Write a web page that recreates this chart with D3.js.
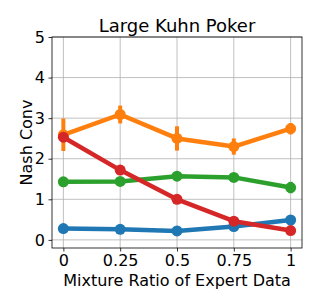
<!DOCTYPE html>
<html>
<head>
<meta charset="utf-8">
<script src="https://cdn.jsdelivr.net/npm/d3@7"></script>
<style>
  body { margin: 0; background: #fff; }
  svg { font-family: "DejaVu Sans", sans-serif; }
</style>
</head>
<body>
<svg width="319" height="306"></svg>
<script>
// data
const ratios = [0, 0.25, 0.5, 0.75, 1];
const xTicks = ["0", "0.25", "0.5", "0.75", "1"];
const blue = [0.28, 0.26, 0.22, 0.33, 0.49];
const blueErr = [0.03, 0.03, 0.03, 0.04, 0.05];
const orange = [2.59, 3.09, 2.50, 2.30, 2.74];
const orangeErr = [0.4, 0.22, 0.3, 0.2, 0.14];
const green = [1.43, 1.44, 1.57, 1.54, 1.29];
const greenErr = [0.05, 0.05, 0.05, 0.05, 0.14];
const red = [2.53, 1.72, 1.00, 0.46, 0.23];
const redErr = [0.03, 0.03, 0.03, 0.03, 0.03];
const yTicks = [0, 1, 2, 3, 4, 5];

const series = [
  {vals: blue, err: blueErr, color: "#1f77b4"},
  {vals: orange, err: orangeErr, color: "#ff7f0e"},
  {vals: green, err: greenErr, color: "#2ca02c"},
  {vals: red, err: redErr, color: "#d62728"}
];

const margin = {top: 37, right: 17, bottom: 58, left: 52};
const width = 319 - margin.left - margin.right;
const height = 306 - margin.top - margin.bottom;

const svg = d3.select("svg");
const g = svg.append("g").attr("transform", `translate(${margin.left},${margin.top})`);

const x = d3.scaleLinear().domain([-0.05, 1.05]).range([0, width]);
const y = d3.scaleLinear().domain([-0.2, 5.0]).range([height, 0]);

// grid
g.append("g").selectAll("line").data(ratios).join("line")
  .attr("x1", d => x(d)).attr("x2", d => x(d))
  .attr("y1", 0).attr("y2", height)
  .attr("stroke", "#b0b0b0").attr("stroke-width", 0.8);
g.append("g").selectAll("line").data(yTicks).join("line")
  .attr("x1", 0).attr("x2", width)
  .attr("y1", d => y(d)).attr("y2", d => y(d))
  .attr("stroke", "#b0b0b0").attr("stroke-width", 0.8);

// series
const line = d3.line().x((d, i) => x(ratios[i])).y(d => y(d));
series.forEach(s => {
  const sg = g.append("g");
  sg.selectAll("line.err").data(s.vals).join("line")
    .attr("class", "err")
    .attr("x1", (d, i) => x(ratios[i])).attr("x2", (d, i) => x(ratios[i]))
    .attr("y1", (d, i) => y(d - s.err[i])).attr("y2", (d, i) => y(d + s.err[i]))
    .attr("stroke", s.color).attr("stroke-width", 4);
  sg.append("path").datum(s.vals)
    .attr("d", line)
    .attr("fill", "none")
    .attr("stroke", s.color)
    .attr("stroke-width", 4.5)
    .attr("stroke-linejoin", "round");
  sg.selectAll("circle").data(s.vals).join("circle")
    .attr("cx", (d, i) => x(ratios[i])).attr("cy", d => y(d))
    .attr("r", 5.5)
    .attr("fill", s.color);
});

// axes
const xAxis = d3.axisBottom(x).tickValues(ratios).tickFormat((d, i) => xTicks[i]).tickSize(3.5).tickPadding(3.5);
const yAxis = d3.axisLeft(y).tickValues(yTicks).tickFormat(d3.format("d")).tickSize(3.5).tickPadding(3.5);
const xg = g.append("g").attr("transform", `translate(0,${height})`).call(xAxis);
const yg = g.append("g").call(yAxis);
[xg, yg].forEach(a => {
  a.select(".domain").remove();
  a.selectAll("text").attr("font-size", 16).attr("fill", "#000").attr("font-family", "DejaVu Sans");
  a.selectAll("line").attr("stroke", "#000").attr("stroke-width", 0.8);
});

g.append("rect").attr("width", width).attr("height", height)
  .attr("fill", "none").attr("stroke", "#000").attr("stroke-width", 0.8);

svg.append("text")
  .attr("x", margin.left + width / 2).attr("y", 32)
  .attr("text-anchor", "middle").attr("font-size", 18)
  .text("Large Kuhn Poker");
svg.append("text")
  .attr("x", margin.left + width / 2).attr("y", 286)
  .attr("text-anchor", "middle").attr("font-size", 16)
  .text("Mixture Ratio of Expert Data");
svg.append("text")
  .attr("transform", `translate(32,${margin.top + height / 2}) rotate(-90)`)
  .attr("text-anchor", "middle").attr("font-size", 16)
  .text("Nash Conv");
</script>
</body>
</html>
